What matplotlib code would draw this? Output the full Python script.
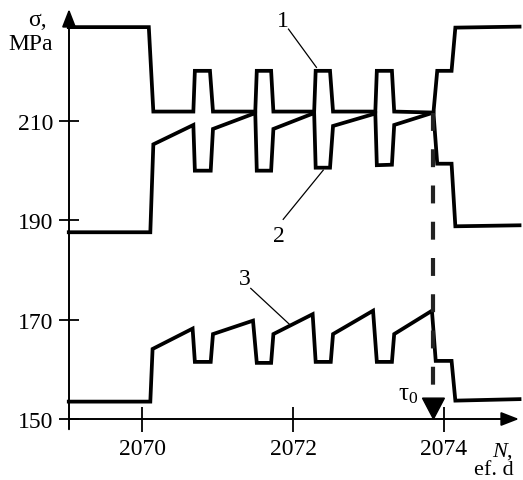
import matplotlib
matplotlib.use('Agg')
import matplotlib.pyplot as plt
from matplotlib.patches import Polygon

plt.rcParams['font.family'] = ['Liberation Serif', 'DejaVu Serif']
plt.rcParams['mathtext.fontset'] = 'custom'
plt.rcParams['mathtext.rm'] = 'Liberation Serif'
plt.rcParams['mathtext.it'] = 'Liberation Serif:italic'

# curve 1: stress at the upper level
x1 = [2069.03, 2070.09, 2070.15, 2070.68, 2070.70, 2070.90, 2070.94, 2071.50, 2071.52,
      2071.71, 2071.74, 2072.28, 2072.30, 2072.49, 2072.53, 2073.09, 2073.11, 2073.31,
      2073.34, 2073.86, 2073.91, 2074.10, 2074.15, 2075.00]
y1 = [228.9, 228.9, 211.9, 211.9, 220.1, 220.1, 211.9, 211.9, 220.1,
      220.1, 211.9, 211.9, 220.1, 220.1, 211.9, 211.9, 220.1, 220.1,
      211.9, 211.7, 220.1, 220.1, 228.8, 229.0]

# curve 2: stress at the middle level
x2 = [2069.03, 2070.11, 2070.15, 2070.68, 2070.70, 2070.91, 2070.94, 2071.50, 2071.52,
      2071.71, 2071.74, 2072.28, 2072.30, 2072.49, 2072.53, 2073.09, 2073.11, 2073.31,
      2073.34, 2073.86, 2073.91, 2074.10, 2074.15, 2075.00]
y2 = [187.6, 187.6, 205.3, 209.2, 200.0, 200.0, 208.4, 211.6, 200.0,
      200.0, 208.4, 211.6, 200.6, 200.6, 209.0, 211.5, 201.1, 201.2,
      209.2, 211.7, 201.4, 201.4, 188.8, 189.0]

# curve 3: stress at the lower level
x3 = [2069.03, 2070.11, 2070.14, 2070.67, 2070.70, 2070.91, 2070.94, 2071.47, 2071.52,
      2071.71, 2071.74, 2072.26, 2072.30, 2072.50, 2072.53, 2073.06, 2073.11, 2073.31,
      2073.34, 2073.84, 2073.89, 2074.10, 2074.15, 2075.00]
y3 = [153.5, 153.5, 164.1, 168.2, 161.5, 161.5, 167.1, 169.8, 161.3,
      161.3, 167.1, 171.1, 161.5, 161.5, 167.1, 171.8, 161.5, 161.5,
      167.1, 171.8, 161.7, 161.7, 153.7, 154.0]

xticks = [2070, 2072, 2074]
yticks = [150, 170, 190, 210]

tau0 = 2073.86
tau0_level = 211.7

# curve labels: (text, text position, leader start, leader end)
labels = [('1', (2071.86, 230.2), (2071.94, 228.5), (2072.31, 220.8)),
          ('2', (2071.81, 187.0), (2071.87, 190.2), (2072.40, 200.1)),
          ('3', (2071.36, 178.2), (2071.44, 176.3), (2071.95, 169.1))]

fig = plt.figure(figsize=(5.23, 4.81), dpi=100)
ax = fig.add_axes([69 / 523, 61 / 481, 450 / 523, 410 / 481])
ax.set_xlim(2069.033, 2074.993)
ax.set_ylim(150, 232.55)

for s in ax.spines.values():
    s.set_visible(False)

# axes with arrow heads
arrow = dict(arrowstyle='-|>,head_length=0.9,head_width=0.35', lw=1.4, color='k',
             mutation_scale=12, shrinkA=0, shrinkB=0)
ax.annotate('', xy=(0, 1), xytext=(0, -0.025), xycoords='axes fraction', arrowprops=arrow)
ax.annotate('', xy=(1, 0), xytext=(0, 0), xycoords='axes fraction', arrowprops=arrow)

ax.set_xticks(xticks)
ax.set_yticks(yticks)
ax.tick_params(axis='y', direction='inout', length=14.4, width=1.3, labelsize=17, pad=4)
ax.tick_params(axis='x', direction='inout', length=18, width=1.3, labelsize=17, pad=5)

for x, y in [(x1, y1), (x2, y2), (x3, y3)]:
    ax.plot(x, y, color='k', lw=2.7, solid_joinstyle='miter', clip_on=False)

for txt, tpos, a, b in labels:
    ax.plot([a[0], b[0]], [a[1], b[1]], color='k', lw=0.9)
    ax.text(tpos[0], tpos[1], txt, fontsize=17, ha='center', va='center')

# tau0 marker: dashed drop line with a filled head
ax.plot([tau0, tau0], [tau0_level, 154.0], color='#222222', lw=3,
        linestyle=(0, (4.3, 4.4)), dash_capstyle='butt')
hw = 0.145
ax.add_patch(Polygon([[tau0 - hw, 154.2], [tau0 + hw, 154.2], [tau0, 150.0]],
                     closed=True, color='k', clip_on=False))
ax.text(2073.52, 155.0, r'$\mathrm{\tau_0}$', fontsize=18, ha='center', va='center')

fig.text(37 / 523, 1 - 21 / 481, 'σ,', fontsize=17, ha='center', va='center')
fig.text(31 / 523, 1 - 45 / 481, 'MPa', fontsize=17, ha='center', va='center')
fig.text(492 / 523, 1 - 452 / 481, r'$\mathit{N}$,', fontsize=16, ha='left', va='center')
fig.text(474 / 523, 1 - 471 / 481, 'ef. d', fontsize=16, ha='left', va='center')

fig.savefig('out.png', dpi=100)
